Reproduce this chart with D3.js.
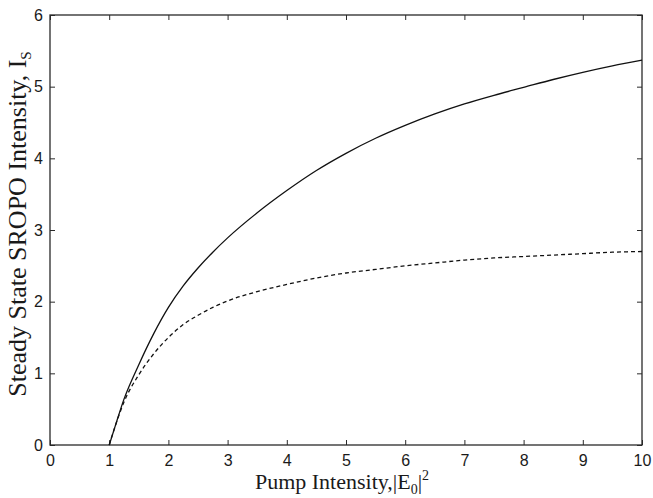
<!DOCTYPE html>
<html>
<head>
<meta charset="utf-8">
<script src="https://cdn.jsdelivr.net/npm/d3@7"></script>
<style>
  html, body { margin: 0; padding: 0; background: #fff; }
  svg { display: block; }
</style>
</head>
<body>
<svg id="chart" width="653" height="498"></svg>
<script>
// ---- data ----
const solidX = [1, 1.1, 1.25, 1.5, 1.75, 2, 2.25, 2.5, 2.75, 3, 3.5, 4, 4.5, 5, 5.5, 6, 6.5, 7, 7.5, 8, 8.5, 9, 9.5, 10];
const solidY = [0, 0.26, 0.64, 1.12, 1.55, 1.92, 2.22, 2.47, 2.69, 2.89, 3.24, 3.55, 3.83, 4.07, 4.28, 4.46, 4.62, 4.76, 4.88, 4.99, 5.10, 5.20, 5.29, 5.37];
const dashedX = [1, 1.1, 1.25, 1.5, 1.75, 2, 2.25, 2.5, 2.75, 3, 3.5, 4, 4.5, 5, 5.5, 6, 6.5, 7, 7.5, 8, 8.5, 9, 9.5, 10];
const dashedY = [0, 0.26, 0.60, 0.98, 1.27, 1.50, 1.68, 1.81, 1.92, 2.01, 2.14, 2.24, 2.33, 2.40, 2.45, 2.50, 2.54, 2.58, 2.61, 2.63, 2.65, 2.67, 2.69, 2.70];
const xTicks = [0, 1, 2, 3, 4, 5, 6, 7, 8, 9, 10];
const yTicks = [0, 1, 2, 3, 4, 5, 6];
const xDomain = [0, 10];
const yDomain = [0, 6];

const svg = d3.select("#chart");
const m = { left: 50, right: 11, top: 15, bottom: 53 };
const W = 653, H = 498;
const x = d3.scaleLinear().domain(xDomain).range([m.left, W - m.right]);
const y = d3.scaleLinear().domain(yDomain).range([H - m.bottom, m.top]);

const tickFont = "'Liberation Sans', Arial, sans-serif";
const titleFont = "'Liberation Serif', 'Times New Roman', serif";
const axisColor = "#2a2a2a";
const textColor = "#1a1a1a";

function styleAxis(g) {
  g.select(".domain").remove();
  g.selectAll(".tick line").attr("stroke", axisColor).attr("stroke-width", 1);
  g.selectAll(".tick text").attr("fill", textColor).style("font-family", tickFont).style("font-size", "16px");
}

svg.append("g").attr("transform", `translate(0,${y(0)})`)
  .call(d3.axisBottom(x).tickValues(xTicks).tickSizeInner(-5).tickSizeOuter(0).tickPadding(10).tickFormat(d3.format("d")))
  .call(styleAxis);
svg.append("g").attr("transform", `translate(0,${y(6)})`)
  .call(d3.axisTop(x).tickValues(xTicks).tickSizeInner(-5).tickSizeOuter(0).tickFormat(""))
  .call(styleAxis);
svg.append("g").attr("transform", `translate(${x(0)},0)`)
  .call(d3.axisLeft(y).tickValues(yTicks).tickSizeInner(-5).tickSizeOuter(0).tickPadding(7).tickFormat(d3.format("d")))
  .call(styleAxis);
svg.append("g").attr("transform", `translate(${x(10)},0)`)
  .call(d3.axisRight(y).tickValues(yTicks).tickSizeInner(-5).tickSizeOuter(0).tickFormat(""))
  .call(styleAxis);

// frame
svg.append("rect")
  .attr("x", x(0)).attr("y", y(6))
  .attr("width", x(10) - x(0)).attr("height", y(0) - y(6))
  .attr("fill", "none").attr("stroke", axisColor).attr("stroke-width", 1.3);

const line = d3.line().x(d => x(d[0])).y(d => y(d[1])).curve(d3.curveMonotoneX);

svg.append("path")
  .datum(solidX.map((v, i) => [v, solidY[i]]))
  .attr("d", line).attr("fill", "none").attr("stroke", "#111").attr("stroke-width", 1.3);

svg.append("path")
  .datum(dashedX.map((v, i) => [v, dashedY[i]]))
  .attr("d", line).attr("fill", "none").attr("stroke", "#111").attr("stroke-width", 1.3)
  .attr("stroke-dasharray", "4,3");

// x title
const xt = svg.append("text")
  .attr("x", 342).attr("y", 489)
  .attr("text-anchor", "middle")
  .style("font-family", titleFont).style("font-size", "22px").attr("fill", textColor);
xt.append("tspan").attr("fill", textColor).text("Pump Intensity,|E");
xt.append("tspan").attr("fill", textColor).attr("dy", 5).style("font-size", "14px").text("0");
xt.append("tspan").attr("fill", textColor).attr("dy", -5).text("|");
xt.append("tspan").attr("fill", textColor).attr("dy", -9).style("font-size", "14px").text("2");

// y title
const yt = svg.append("text")
  .attr("transform", `translate(26,224) rotate(-90)`)
  .attr("text-anchor", "middle")
  .style("font-family", titleFont).style("font-size", "26px").attr("fill", textColor);
yt.append("tspan").attr("fill", textColor).text("Steady State SROPO Intensity, I");
yt.append("tspan").attr("fill", textColor).attr("dy", 5).style("font-size", "15px").text("S");
</script>
</body>
</html>
